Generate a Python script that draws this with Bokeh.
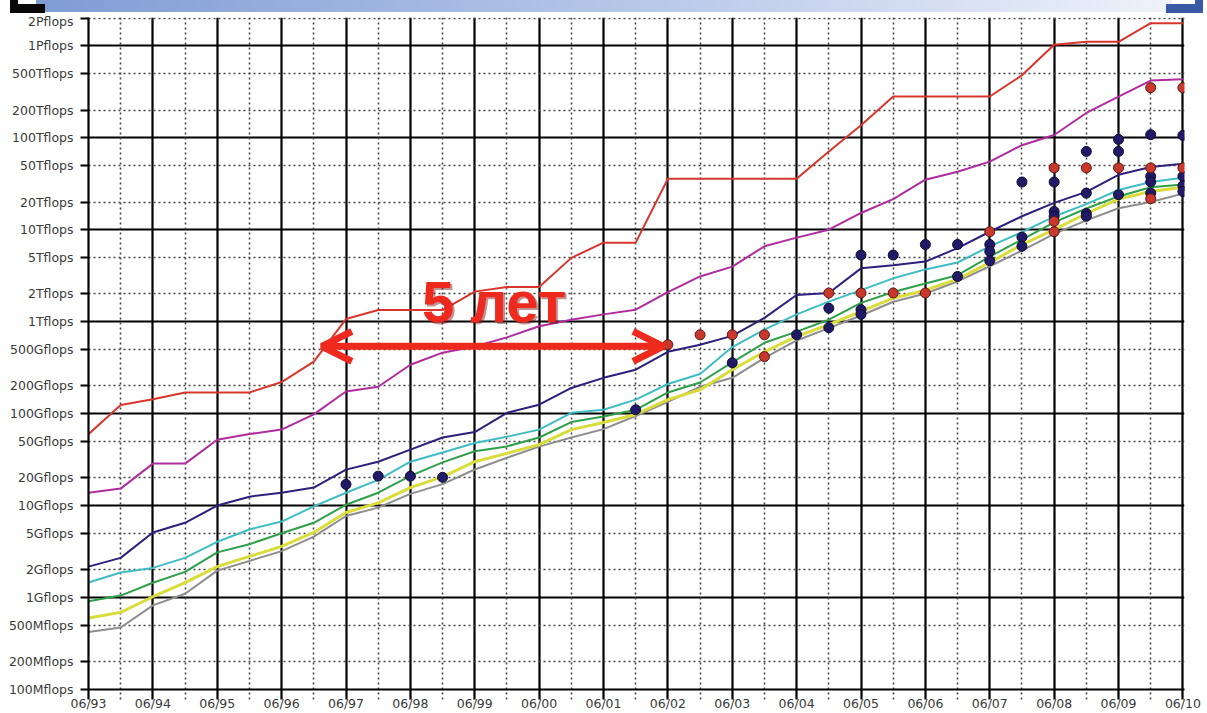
from bokeh.embed import file_html
from bokeh.layouts import column
from bokeh.models import Arrow, Div, FixedTicker, Grid, Label, OpenHead, Range1d
from bokeh.plotting import figure
from bokeh.resources import INLINE

# TOP500 list releases (June / November)
releases = ["06/93", "11/93", "06/94", "11/94", "06/95", "11/95", "06/96", "11/96",
            "06/97", "11/97", "06/98", "11/98", "06/99", "11/99", "06/00", "11/00",
            "06/01", "11/01", "06/02", "11/02", "06/03", "11/03", "06/04", "11/04",
            "06/05", "11/05", "06/06", "11/06", "06/07", "11/07", "06/08", "11/08",
            "06/09", "11/09", "06/10"]

# Linpack performance in Gflops for ranks of the list
rank_1 = [59.7, 124, 143.4, 170, 170, 170, 220.4, 368.2, 1068, 1338, 1338, 1338,
          2121, 2379, 2379, 4938, 7226, 7226, 35860, 35860, 35860, 35860, 35860,
          70720, 136800, 280600, 280600, 280600, 280600, 478200, 1026000, 1105000,
          1105000, 1759000, 1759000]
rank_10 = [13.8, 15.3, 28.6, 28.6, 52, 60, 67, 98, 174, 196, 340, 460, 537, 675,
           890, 1050, 1200, 1350, 2100, 3100, 3970, 6600, 8200, 10000, 15200, 21500,
           35000, 42600, 55000, 83000, 107000, 186000, 280000, 418000, 433000]
rank_50 = [2.17, 2.7, 5.1, 6.5, 10, 12.5, 13.8, 15.7, 24.6, 30, 40.6, 55, 63, 102,
           125, 190, 245, 300, 470, 560, 700, 1100, 1950, 2050, 3800, 4100, 4500,
           6300, 9500, 14000, 19600, 25800, 39500, 48000, 52000]
rank_100 = [1.46, 1.87, 2.1, 2.7, 4.04, 5.5, 6.7, 9.8, 13.8, 19, 30, 37.8, 48, 56,
            67, 102, 110, 142, 210, 270, 530, 820, 1200, 1650, 2200, 2960, 3700,
            4400, 6600, 9400, 13900, 19000, 27000, 33000, 36700]
rank_200 = [0.91, 1.05, 1.45, 1.9, 3.1, 3.8, 5.0, 6.5, 10.2, 13.8, 21, 29.5, 39, 44,
            55, 81, 93, 110, 170, 218, 360, 590, 780, 1050, 1600, 2100, 2600, 3200,
            5100, 7800, 12000, 17000, 23000, 29000, 31000]
rank_300 = [0.6, 0.69, 1.02, 1.45, 2.17, 2.8, 3.6, 5.1, 8.4, 10.7, 15.7, 20.5, 30,
            37, 46, 67, 80, 98, 142, 182, 300, 470, 690, 930, 1290, 1800, 2200, 2900,
            4400, 6900, 10000, 15000, 21500, 26000, 29000]
rank_500 = [0.422, 0.472, 0.822, 1.1, 1.96, 2.5, 3.2, 4.6, 7.7, 9.5, 13.4, 17.1,
            24.7, 33.1, 43.8, 55.1, 67.8, 94.3, 134, 196, 245, 403, 624, 850, 1166,
            1646, 2026, 2737, 4005, 5930, 9000, 12640, 17100, 20050, 24670]

# Individual systems (release, Gflops)
navy_dot_dates = ["06/97", "11/97", "06/98", "11/98", "11/01", "06/03", "06/04",
                  "11/04", "11/04", "06/05", "06/05", "06/05", "11/05", "06/06",
                  "11/06", "11/06", "06/07", "06/07", "06/07", "11/07", "11/07",
                  "11/07", "06/08", "06/08", "06/08", "11/08", "11/08", "11/08",
                  "11/08", "06/09", "06/09", "06/09", "11/09", "11/09", "11/09",
                  "11/09", "06/10", "06/10", "06/10", "06/10"]
navy_dot_gflops = [17, 20.9, 20.9, 20.3, 110, 357, 720, 1400, 860, 5300, 1350, 1200,
                   5300, 6900, 6900, 3100, 6900, 5800, 4600, 33000, 8300, 6600,
                   33000, 15800, 14000, 71000, 25000, 15000, 14000, 96000, 71000,
                   24000, 108000, 38000, 33000, 25000, 106000, 38000, 30000, 26000]
red_dot_dates = ["06/02", "11/02", "06/03", "11/03", "11/03", "11/04", "06/05",
                 "11/05", "06/06", "06/07", "06/08", "06/08", "06/08", "11/08",
                 "06/09", "11/09", "11/09", "11/09", "06/10", "06/10"]
red_dot_gflops = [562, 720, 720, 720, 417, 2050, 2050, 2050, 2050, 9500, 47000,
                  12300, 9500, 47000, 47000, 350000, 47000, 21700, 350000, 47000]

# Axis ticks
y_tick_labels = ["100Mflops", "200Mflops", "500Mflops", "1Gflops", "2Gflops",
                 "5Gflops", "10Gflops", "20Gflops", "50Gflops", "100Gflops",
                 "200Gflops", "500Gflops", "1Tflops", "2Tflops", "5Tflops",
                 "10Tflops", "20Tflops", "50Tflops", "100Tflops", "200Tflops",
                 "500Tflops", "1Pflops", "2Pflops"]
y_tick_values = [m * 10 ** e for e in range(8, 16) for m in (1, 2, 5)][:len(y_tick_labels)]

# Annotation: the "5 years" span
span_label = "5 лет"
span_start, span_end, span_level = 7.25, 17.85, 540e9

GF = 1e9
x = list(range(len(releases)))
year_idx = [i for i in x if releases[i].startswith("06")]
half_idx = [i for i in x if releases[i].startswith("11")]

W, H = 1207, 713
HEADER = 13

# ---------------- slide header strip (plain HTML) ----------------
def block(left, top, width, height, background):
    return (f'<div style="position:absolute;left:{left}px;top:{top}px;width:{width}px;'
            f'height:{height}px;background:{background}"></div>')


header_html = (
    f'<div style="position:relative;width:{W}px;height:{HEADER}px;overflow:hidden;background:white">'
    + block(36, 0, 1136, 12, "linear-gradient(to right,#7f9cd4,#b9c9ea 55%,#eef2fa)")
    + block(10, 0, 8, 13, "#0a0a0a")
    + block(10, 4, 35, 9, "#0a0a0a")
    + block(1166, 4, 37, 9, "#3a5aa6")
    + block(1195, 0, 8, 13, "#3a5aa6")
    + "</div>"
)
hdr = Div(text=header_html, width=W, height=HEADER, margin=0,
          styles={"padding": "0", "margin": "0"})

# ---------------- main chart ----------------
X0, X1 = 0, 34.05
Y0, Y1 = 1e8, 2.03e15
FL, FR, FT, FB = 88, 1184, 17 - HEADER, 690 - HEADER
PH = H - HEADER

p = figure(width=W, height=PH, y_axis_type="log", output_backend="svg",
           toolbar_location=None, x_range=Range1d(X0, X1), y_range=Range1d(Y0, Y1),
           min_border_left=FL, min_border_right=W - FR, min_border_top=FT,
           min_border_bottom=PH - FB, margin=0)
p.outline_line_color = None
p.background_fill_color = "white"
p.border_fill_color = "white"

# grids: solid on years / decades, dotted on half years and 2x, 5x
p.xgrid[0].ticker = FixedTicker(ticks=year_idx)
p.ygrid[0].ticker = FixedTicker(ticks=[v for v in y_tick_values if str(v).startswith("1")])
for g in (p.xgrid[0], p.ygrid[0]):
    g.grid_line_color = "black"
    g.grid_line_width = 2.2
    g.grid_line_alpha = 1
p.add_layout(Grid(dimension=0, ticker=FixedTicker(ticks=half_idx),
                  grid_line_color="#444444", grid_line_width=1.6, grid_line_dash="2 3"))
p.add_layout(Grid(dimension=1,
                  ticker=FixedTicker(ticks=[v for v in y_tick_values if not str(v).startswith("1")]),
                  grid_line_color="#444444", grid_line_width=1.6, grid_line_dash="2 3"))

label_font = "DejaVu Sans"
xa = p.xaxis[0]
xa.ticker = FixedTicker(ticks=year_idx, minor_ticks=half_idx)
xa.major_label_overrides = {i: releases[i] for i in year_idx}
xa.axis_line_color = "black"
xa.axis_line_width = 2.2
xa.major_tick_line_color = "black"
xa.major_tick_line_width = 2.2
xa.major_tick_in = 0
xa.major_tick_out = 10
xa.minor_tick_in = 0
xa.minor_tick_out = 10
xa.minor_tick_line_color = "#444444"
xa.minor_tick_line_width = 1.6
xa.minor_tick_line_dash = "2 3"
xa.major_label_standoff = -4
xa.major_label_text_font = label_font
xa.major_label_text_font_size = "12.5px"
xa.major_label_text_color = "#3a3a3a"

ya = p.yaxis[0]
ya.ticker = FixedTicker(ticks=y_tick_values)
ya.major_label_overrides = dict(zip(y_tick_values, y_tick_labels))
ya.axis_line_color = "black"
ya.axis_line_width = 2.2
ya.major_tick_line_color = "black"
ya.major_tick_line_width = 2
ya.major_tick_in = 0
ya.major_tick_out = 8
ya.minor_tick_out = 0
ya.major_label_standoff = 7
ya.major_label_text_font = label_font
ya.major_label_text_font_size = "12.5px"
ya.major_label_text_color = "#3a3a3a"

series = [
    (rank_500, "#8e8e8e", 2),
    (rank_300, "#dadc3a", 3),
    (rank_200, "#2f9f4a", 2),
    (rank_100, "#3fbcc4", 2),
    (rank_50, "#2d1f7c", 2),
    (rank_10, "#b02c9e", 2),
    (rank_1, "#d8362c", 2),
]
for vals, color, w in series:
    p.line(x, [v * GF for v in vals], line_color=color, line_width=w)

p.scatter([releases.index(d) for d in navy_dot_dates], [v * GF for v in navy_dot_gflops],
          size=10, fill_color="#211a66", line_color="#0e0b35", line_width=1)
p.scatter([releases.index(d) for d in red_dot_dates], [v * GF for v in red_dot_gflops],
          size=10, fill_color="#c9382c", line_color="#5a1812", line_width=1)

# double-headed arrow with caption
red = "#ee2a1e"
p.add_layout(Arrow(x_start=span_start, x_end=span_end, y_start=span_level, y_end=span_level,
                   line_color=red, line_width=7,
                   start=OpenHead(size=30, line_color=red, line_width=7),
                   end=OpenHead(size=30, line_color=red, line_width=7)))
cap_x = (span_start + span_end) / 2 + 0.05
cap_y = span_level * 3.1
p.add_layout(Label(x=cap_x, y=cap_y, text=span_label, text_font="Liberation Sans",
                   text_font_style="bold", text_font_size="58px", text_color="#7a1010",
                   text_alpha=0.45, text_align="center", text_baseline="middle",
                   x_offset=2, y_offset=-2))
p.add_layout(Label(x=cap_x, y=cap_y, text=span_label, text_font="Liberation Sans",
                   text_font_style="bold", text_font_size="58px", text_color=red,
                   text_align="center", text_baseline="middle"))

layout = column(hdr, p, spacing=0, margin=0)
open("out.html", "w").write(file_html(layout, INLINE))
